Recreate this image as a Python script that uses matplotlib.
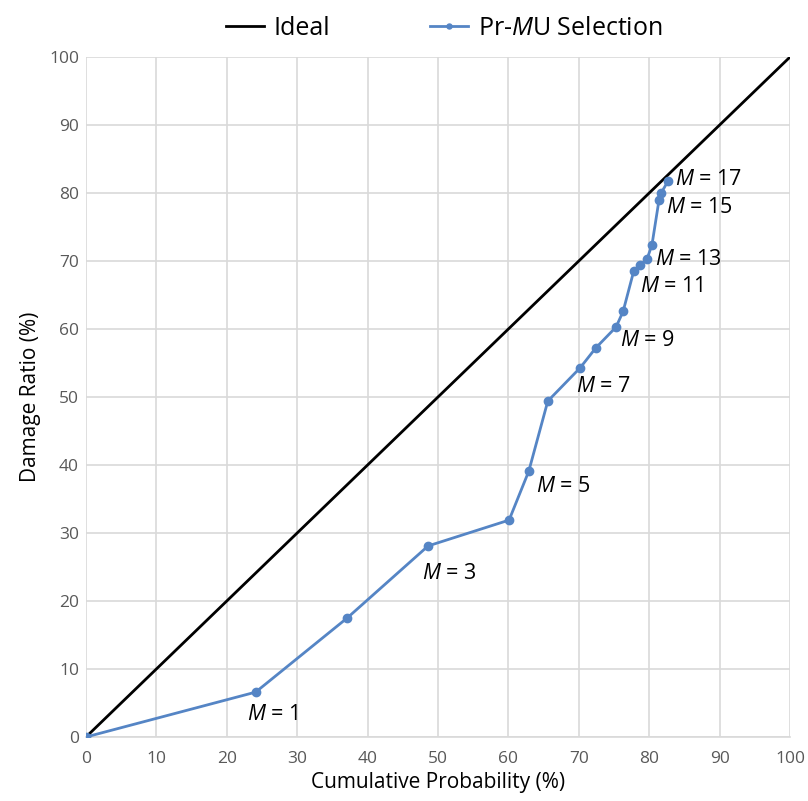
import matplotlib
matplotlib.use("Agg")
import matplotlib.pyplot as plt
from matplotlib.ticker import MultipleLocator

plt.rcParams['font.family'] = ['Open Sans', 'DejaVu Sans']
plt.rcParams['mathtext.fontset'] = 'custom'
plt.rcParams['mathtext.it'] = 'Open Sans:italic'
plt.rcParams['mathtext.rm'] = 'Open Sans'

cum_prob = [0, 24.1, 37.1, 48.6, 60.1, 62.9, 65.6, 70.2, 72.4, 75.3, 76.3,
            77.8, 78.7, 79.7, 80.4, 81.4, 81.7, 82.7]
damage = [0, 6.6, 17.5, 28.1, 31.9, 39.1, 49.4, 54.3, 57.2, 60.3, 62.6,
          68.5, 69.4, 70.3, 72.4, 79.0, 80.0, 81.8]
ideal_x = [0, 100]
ideal_y = [0, 100]
label_idx = [1, 3, 5, 7, 9, 11, 13, 15, 17]
label_offsets = [(-9, -22), (-6, -28), (7, -15), (-4, -19), (4, -14),
                 (6, -15), (8, -1), (7, -8), (7, 1)]

fig = plt.figure(figsize=(8.08, 8.01), dpi=100)
ax = fig.add_axes([0.1064, 0.0799, 0.8713, 0.8489])

blue = '#5585c5'
ax.plot(ideal_x, ideal_y, color='black', lw=2, label='Ideal', zorder=3)
ax.plot(cum_prob, damage, color=blue, lw=2, marker='o', ms=6,
        label='Pr-$\\mathit{M}$U Selection', zorder=4)

for i, (dx, dy) in zip(label_idx, label_offsets):
    ax.annotate(f'$\\mathit{{M}}$ = {i}', (cum_prob[i], damage[i]),
                xytext=(dx, dy), textcoords='offset pixels',
                ha='left', va='center', fontsize=15.5, color='black')

ax.set_xlim(0, 100)
ax.set_ylim(0, 100)
ax.xaxis.set_major_locator(MultipleLocator(10))
ax.yaxis.set_major_locator(MultipleLocator(10))
ax.grid(True, color='#d9d9d9', lw=1.2)
ax.set_axisbelow(True)
for s in ['top', 'right', 'left']:
    ax.spines[s].set_visible(False)
ax.spines['bottom'].set_color('#d9d9d9')
ax.spines['bottom'].set_linewidth(1.2)
ax.tick_params(length=0, labelsize=12.5, labelcolor='#595959')
ax.tick_params(axis='y', pad=5)
ax.tick_params(axis='x', pad=10)
ax.set_xlabel('Cumulative Probability (%)', fontsize=15, labelpad=4)
ax.set_ylabel('Damage Ratio (%)', fontsize=15, labelpad=6)

fig.legend(loc='upper center', bbox_to_anchor=(0.55, 1.008), ncol=2,
           frameon=False, fontsize=18, handlelength=1.5, handletextpad=0.4,
           columnspacing=4, markerscale=0.6)

fig.savefig('out.png', dpi=100)
